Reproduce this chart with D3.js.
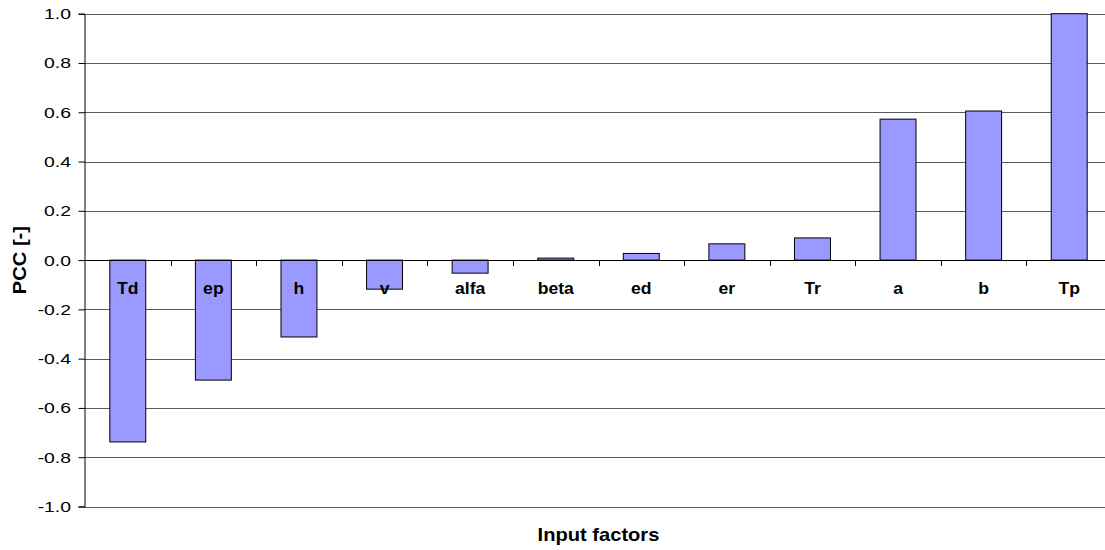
<!DOCTYPE html>
<html><head><meta charset="utf-8">
<script src="https://cdn.jsdelivr.net/npm/d3@7"></script>
<style>body{margin:0;background:#fff}svg{display:block;font-family:"Liberation Sans",Arial,sans-serif}</style>
</head><body>
<svg id="c" width="1105" height="550"></svg>
<script>
const categories = ["Td","ep","h","v","alfa","beta","ed","er","Tr","a","b","Tp"];
const values = [-0.738,-0.487,-0.312,-0.118,-0.053,0.008,0.027,0.066,0.090,0.572,0.605,1.0];
const yTicks = [-1.0,-0.8,-0.6,-0.4,-0.2,0.0,0.2,0.4,0.6,0.8,1.0];
const yTitle = "PCC [-]";
const xTitle = "Input factors";

const svg = d3.select("#c");
const x = d3.scaleBand().domain(categories).range([85, 1112]).paddingInner(0).paddingOuter(0);
const y = d3.scaleLinear().domain([-1, 1]).range([506.5, 13.7]);

// gridlines
svg.append("g").selectAll("line").data(yTicks).join("line")
  .attr("x1", 84).attr("x2", 1112)
  .attr("y1", d => Math.round(y(d)) + 0.5).attr("y2", d => Math.round(y(d)) + 0.5)
  .attr("stroke", "#5a5a5a").attr("stroke-width", 1.2);

// y axis
const yAxis = d3.axisLeft(y).tickValues(yTicks).tickFormat("").tickSize(6);
const gy = svg.append("g").attr("transform", "translate(84.5,0)").call(yAxis);
gy.select(".domain").attr("stroke", "#000");
gy.selectAll(".tick line").attr("stroke", "#000");
const fmt = d => d.toFixed(1);
svg.append("g").selectAll("text").data(yTicks).join("text")
  .attr("transform", d => `translate(71,${y(d) + 5.5}) scale(1.25,1)`)
  .attr("text-anchor", "end").attr("font-size", 15.5).attr("fill", "#000")
  .text(fmt);

// bars
const bw = x.bandwidth() * 0.42;
svg.append("g").selectAll("rect").data(categories).join("rect")
  .attr("x", (d) => x(d) + (x.bandwidth() - bw) / 2)
  .attr("width", bw)
  .attr("y", (d, i) => y(Math.max(0, values[i])))
  .attr("height", (d, i) => Math.abs(y(values[i]) - y(0)))
  .attr("fill", "#9999ff").attr("stroke", "#000").attr("stroke-width", 1);

// x axis at zero
const xAxis = d3.axisBottom(x).tickSize(0).tickFormat("");
const gx = svg.append("g").attr("transform", `translate(0,${Math.round(y(0)) + 0.5})`).call(xAxis);
gx.select(".domain").attr("stroke", "#000").attr("d", "M84,0H1112");
svg.append("g").selectAll("line").data(categories.slice(1)).join("line")
  .attr("x1", d => Math.round(x(d)) + 0.5).attr("x2", d => Math.round(x(d)) + 0.5)
  .attr("y1", Math.round(y(0))).attr("y2", Math.round(y(0)) + 6)
  .attr("stroke", "#000");

// category labels
svg.append("g").selectAll("text").data(categories).join("text")
  .attr("transform", d => `translate(${x(d) + x.bandwidth() / 2},294) scale(1.1,1)`)
  .attr("text-anchor", "middle").attr("font-size", 16).attr("font-weight", "bold")
  .text(d => d);

// titles
svg.append("text").attr("transform", `translate(26,${y(0)}) rotate(-90) scale(1.15,1)`)
  .attr("text-anchor", "middle").attr("font-size", 17.5).attr("font-weight", "bold").text(yTitle);
svg.append("text").attr("transform", `translate(598.5,541) scale(1.15,1)`)
  .attr("text-anchor", "middle").attr("font-size", 17.5).attr("font-weight", "bold").text(xTitle);
</script>
</body></html>
